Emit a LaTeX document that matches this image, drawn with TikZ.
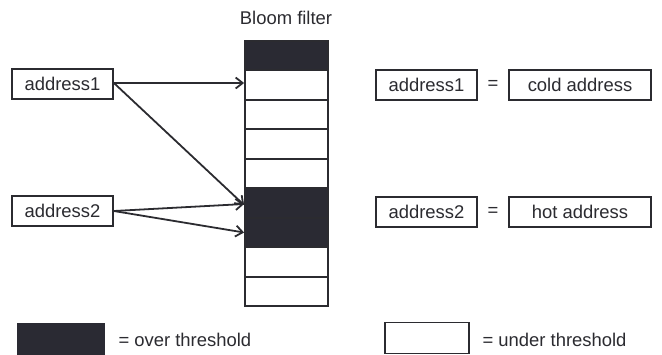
\documentclass[tikz,border=0pt]{standalone}
\usepackage{fontspec}
\setmainfont{Liberation Sans}
\usetikzlibrary{arrows.meta}
\definecolor{ink}{HTML}{2B2B30}
\definecolor{darkcell}{HTML}{2A2A33}
\tikzset{
  txt/.style={font=\fontsize{18.5}{22}\selectfont, text=ink},
  addrbox/.style={draw=ink, line width=1.8pt, fill=white, minimum width=101bp, minimum height=30bp, inner sep=0pt, txt},
  longbox/.style={addrbox, minimum width=142bp},
  cell/.style={draw=ink, line width=1.8pt, fill=white, minimum width=83bp, minimum height=29.5bp, inner sep=0pt},
  hotcell/.style={cell, fill=darkcell},
  link/.style={draw=ink, line width=1.8pt, -{Straight Barb[length=7bp, width=11bp, line width=1.8pt]}},
}
\begin{document}
\begin{tikzpicture}[x=1bp, y=-1bp]
  \useasboundingbox (0,0) rectangle (662,354);

  % title of the bit array
  \node[txt] (title) at (286,18) {Bloom filter};

  % the bit array, top to bottom
  \node[hotcell] (c1) at (286.5,55.5) {};
  \node[cell]    (c2) at (286.5,85) {};
  \node[cell]    (c3) at (286.5,114.5) {};
  \node[cell]    (c4) at (286.5,144) {};
  \node[cell]    (c5) at (286.5,173.5) {};
  \node[hotcell] (c6) at (286.5,203) {};
  \node[hotcell] (c7) at (286.5,232.5) {};
  \node[cell]    (c8) at (286.5,262) {};
  \node[cell]    (c9) at (286.5,291.5) {};

  % inputs
  \node[addrbox] (a1) at (62.5,84) {address1};
  \node[addrbox] (a2) at (62.5,211) {address2};

  % hash mappings
  \coordinate (a1o) at ([yshift=1bp]a1.east);
  \draw[link] (a1o) -- ([yshift=2bp]c2.west);
  \draw[link] (a1o) -- ([yshift=-2bp]c6.west);
  \draw[link] (a2.east) -- ([yshift=-1bp]c6.west);
  \draw[link] (a2.east) -- (c7.west);

  % results
  \node[addrbox] (r1) at (426.5,85) {address1};
  \node[txt] (eq1) at (493,85) {=};
  \node[longbox] (cold) at (580,85) {cold address};
  \node[addrbox] (r2) at (426.5,212) {address2};
  \node[txt] (eq2) at (493,212) {=};
  \node[longbox] (hot) at (580,212) {hot address};

  % legend
  \node[draw=darkcell, fill=darkcell, minimum width=87bp, minimum height=32bp, inner sep=0pt] (lgdark) at (60.5,339) {};
  \node[txt, anchor=west] (lgdarktxt) at (115,340) {= over threshold};
  \node[cell, minimum width=84bp, minimum height=31bp] (lgwhite) at (427,338) {};
  \node[txt, anchor=west] (lgwhitetxt) at (479,340) {= under threshold};
\end{tikzpicture}
\end{document}
